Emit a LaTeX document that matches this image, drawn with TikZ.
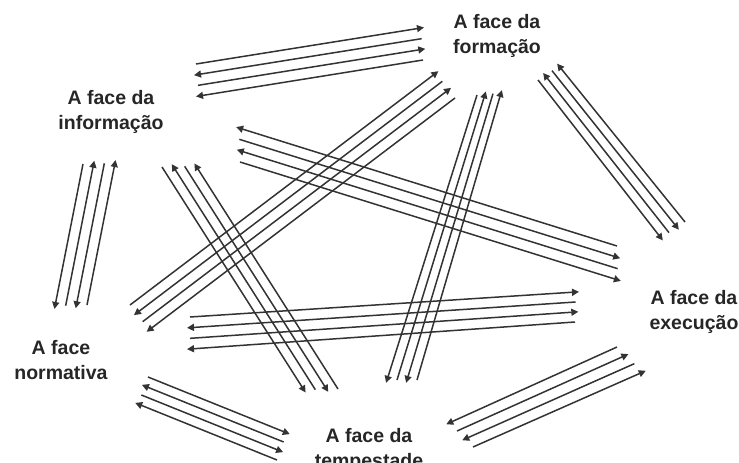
\documentclass[tikz,border=0pt]{standalone}
\usepackage{fontspec}
\setmainfont{Liberation Sans}
\usetikzlibrary{arrows.meta,calc}
\tikzset{
  stroke/.style={line width=1.5pt,draw=black!80},
  fw/.style={-{Triangle[length=7pt,width=7pt]},shorten >=-3pt},
  bw/.style={{Triangle[length=7pt,width=7pt]}-,shorten <=-3pt},
  face/.style={anchor=north,inner sep=0pt,align=center,text=black!85,font=\bfseries\fontsize{19.5}{25}\selectfont}
}
\newcommand\bundle[6]{%
  \draw[stroke,#5] (#1) -- (#2);
  \draw[stroke,#6] ($(#1)!1/3!(#3)$) -- ($(#2)!1/3!(#4)$);
  \draw[stroke,#5] ($(#1)!2/3!(#3)$) -- ($(#2)!2/3!(#4)$);
  \draw[stroke,#6] (#3) -- (#4);
}
\begin{document}
\begin{tikzpicture}[x=1pt,y=-1pt]
\useasboundingbox (0,0) rectangle (739,463);
% labels
\node[face] (form) at (497,14) {A face da\\formação};
\node[face] (info) at (111,90) {A face da\\informação};
\node[face] (exec) at (694,290) {A face da\\execução};
\node[face] (norm) at (61,340) {A face\\normativa};
\node[face] (temp) at (369,428) {A face da\\tempestade};
% bundle end points
\coordinate (A1s) at (196,64);  \coordinate (A1e) at (421,28);
\coordinate (A4s) at (199,96);  \coordinate (A4e) at (423,60);
\coordinate (B1s) at (83,164);  \coordinate (B1e) at (55,306);
\coordinate (B4s) at (115,163); \coordinate (B4e) at (87,305);
\coordinate (C1s) at (162,167); \coordinate (C1e) at (304,390);
\coordinate (C4s) at (196,166); \coordinate (C4e) at (338,389);
\coordinate (D1s) at (239,128); \coordinate (D1e) at (617,246);
\coordinate (D4s) at (240,162); \coordinate (D4e) at (618,280);
\coordinate (E1s) at (436,73);  \coordinate (E1e) at (130,305);
\coordinate (E4s) at (455,98);  \coordinate (E4e) at (149,330);
\coordinate (F1s) at (477,95);  \coordinate (F1e) at (387,380);
\coordinate (F4s) at (501,93);  \coordinate (F4e) at (417,380);
\coordinate (G1s) at (559,66);  \coordinate (G1e) at (685,222);
\coordinate (G4s) at (538,80);  \coordinate (G4e) at (661,238);
\coordinate (H1s) at (190,317); \coordinate (H1e) at (576,292);
\coordinate (H4s) at (190,349); \coordinate (H4e) at (575,322);
\coordinate (I1s) at (148,377); \coordinate (I1e) at (287,433);
\coordinate (I4s) at (138,404); \coordinate (I4e) at (277,460);
\coordinate (J1s) at (449,423); \coordinate (J1e) at (617,347);
\coordinate (J4s) at (473,447); \coordinate (J4e) at (643,372);
% bundles
\bundle{A1s}{A1e}{A4s}{A4e}{fw}{bw}
\bundle{B1s}{B1e}{B4s}{B4e}{fw}{bw}
\bundle{C1s}{C1e}{C4s}{C4e}{fw}{bw}
\bundle{D1s}{D1e}{D4s}{D4e}{bw}{fw}
\bundle{E1s}{E1e}{E4s}{E4e}{bw}{fw}
\bundle{F1s}{F1e}{F4s}{F4e}{fw}{bw}
\bundle{G1s}{G1e}{G4s}{G4e}{bw}{fw}
\bundle{H1s}{H1e}{H4s}{H4e}{fw}{bw}
\bundle{I1s}{I1e}{I4s}{I4e}{fw}{bw}
\bundle{J1s}{J1e}{J4s}{J4e}{bw}{fw}
\end{tikzpicture}
\end{document}
